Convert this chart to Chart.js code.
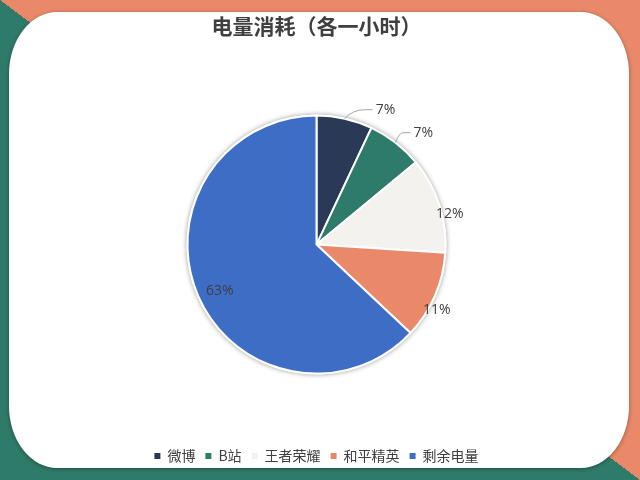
<!DOCTYPE html>
<html>
<head>
<meta charset="utf-8">
<script src="https://cdn.jsdelivr.net/npm/chart.js@4.4.1/dist/chart.umd.min.js"></script>
<style>
  html, body { margin:0; padding:0; }
  body { width:640px; height:480px; position:relative; overflow:hidden;
    background: linear-gradient(to top right, #2F7B69 50%, #E9896A 50%); }
  #panel { position:absolute; left:9px; top:12px; width:620px; height:456px;
    background:#fff; border-radius:48px / 62px; box-shadow:0 1px 4px rgba(0,0,0,0.35); }
  #c { position:absolute; left:0; top:0; }
</style>
</head>
<body>
<div id="panel"></div>
<canvas id="c" width="640" height="480"></canvas>
<script>
const TITLE = '电量消耗（各一小时）';
const categories = ['微博', 'B站', '王者荣耀', '和平精英', '剩余电量'];
const values = [7, 7, 12, 11, 63];
const colors = ['#2A3A56', '#2F7B6B', '#F4F2EF', '#E9896A', '#3D6DC5'];

// label placement style (per slice): leader line [dx, dy, horizontal] or radial factor + angle shift
const LABEL_LAYOUT = [
  { leader: [20, -9, 8] },
  { leader: [8, -10, 7] },
  { rf: 1.06, da: 5 },
  { rf: 1.06, da: 5 },
  { rf: 0.83, da: -2 }
];

const pieDecor = {
  id: 'pieDecor',
  beforeDatasetsDraw(chart) {
    const arc = chart.getDatasetMeta(0).data[0];
    if (!arc) return;
    const p = arc.getProps(['x', 'y', 'outerRadius'], true);
    const ctx = chart.ctx;
    ctx.save();
    ctx.shadowColor = 'rgba(0,0,0,0.4)';
    ctx.shadowBlur = 5;
    ctx.fillStyle = '#fff';
    ctx.beginPath();
    ctx.arc(p.x, p.y, p.outerRadius + 1, 0, Math.PI * 2);
    ctx.fill();
    ctx.restore();
  },
  afterDatasetsDraw(chart) {
    const ctx = chart.ctx;
    const meta = chart.getDatasetMeta(0);
    const data = chart.data.datasets[0].data;
    const total = data.reduce((a, b) => a + b, 0);
    ctx.save();
    ctx.font = '14px "Open Sans", "Noto Sans", sans-serif';
    ctx.fillStyle = '#404040';
    ctx.textBaseline = 'middle';
    meta.data.forEach((arc, i) => {
      const p = arc.getProps(['x', 'y', 'startAngle', 'endAngle', 'outerRadius'], true);
      const mid = (p.startAngle + p.endAngle) / 2;
      const txt = Math.round(data[i] / total * 100) + '%';
      const L = LABEL_LAYOUT[i];
      if (L.leader) {
        const ex = p.x + Math.cos(mid) * p.outerRadius;
        const ey = p.y + Math.sin(mid) * p.outerRadius;
        const [dx, dy, h] = L.leader;
        ctx.strokeStyle = '#A6A6A6';
        ctx.lineWidth = 1;
        ctx.beginPath();
        ctx.moveTo(ex, ey);
        ctx.quadraticCurveTo(ex + dx * 0.4, ey + dy, ex + dx, ey + dy);
        ctx.lineTo(ex + dx + h, ey + dy);
        ctx.stroke();
        ctx.textAlign = 'left';
        ctx.fillText(txt, ex + dx + h + 3, ey + dy);
      } else {
        const a = mid + L.da * Math.PI / 180;
        ctx.textAlign = 'center';
        ctx.fillText(txt, p.x + Math.cos(a) * p.outerRadius * L.rf, p.y + Math.sin(a) * p.outerRadius * L.rf);
      }
    });
    ctx.restore();
  }
};

new Chart(document.getElementById('c'), {
  type: 'pie',
  data: {
    labels: categories,
    datasets: [{
      data: values,
      backgroundColor: colors,
      borderColor: '#ffffff',
      borderWidth: 2,
      radius: 129
    }]
  },
  options: {
    responsive: false,
    animation: false,
    layout: { padding: { right: 7, bottom: 7 } },
    plugins: {
      title: {
        display: true,
        text: TITLE,
        color: '#3F3F3F',
        font: { family: '"Noto Sans CJK SC", sans-serif', size: 21, weight: 'bold' },
        padding: { top: 13, bottom: 12 }
      },
      legend: {
        position: 'bottom',
        labels: {
          color: '#404040',
          font: { family: '"Noto Sans CJK SC", sans-serif', size: 14 },
          boxWidth: 6,
          boxHeight: 6,
          padding: 10,
          generateLabels(chart) {
            const items = Chart.overrides.pie.plugins.legend.labels.generateLabels(chart);
            return items.map(it => Object.assign(it, { lineWidth: 0, strokeStyle: 'rgba(0,0,0,0)' }));
          }
        }
      },
      tooltip: { enabled: false }
    }
  },
  plugins: [pieDecor]
});
</script>
</body>
</html>
